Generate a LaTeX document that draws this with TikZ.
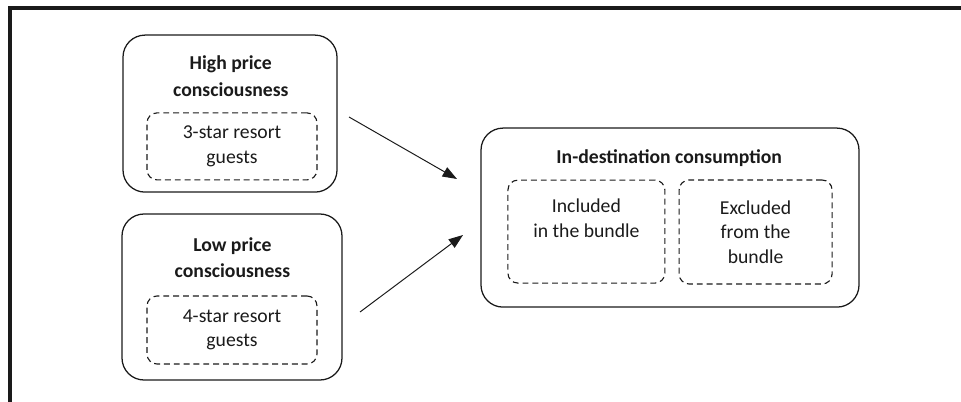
\documentclass[tikz,border=0pt]{standalone}
\usepackage{fontspec}
\setmainfont{Carlito}
\usepackage{tikz}
\usetikzlibrary{arrows.meta,positioning}
\definecolor{inkc}{HTML}{1A1A1A}
\newcommand{\titlefont}{\fontsize{14}{19}\selectfont\bfseries}
\newcommand{\bodyfont}{\fontsize{14}{17.5}\selectfont}

\begin{document}
\begin{tikzpicture}[
		box/.style={draw=inkc,line width=0.9pt,rounded corners=0.55cm,inner sep=0pt},
		dashbox/.style={draw=inkc,line width=0.8pt,dash pattern=on 4.2pt off 2.8pt,rounded corners=0.25cm,align=center,inner sep=0pt,font=\bodyfont,text=inkc},
		title/.style={align=center,inner sep=0pt,font=\titlefont,text=inkc},
		txt/.style={align=center,inner sep=0pt,font=\bodyfont,text=inkc},
		link/.style={draw=inkc,line width=0.7pt,-{Triangle[length=3.6mm,width=2.6mm]}}]
		\useasboundingbox (0,0) rectangle (24.025,-10.05);
		\draw[inkc,line width=2.4pt] (0.25,-10.05) -- (0.25,-0.2) -- (24.025,-0.2);
		\node (hpc) [box,minimum width=5.35cm,minimum height=3.925cm] at (5.75,-2.84) {};
		\node (hpct) [title] at (5.77,-1.9) {High price\\consciousness};
		\node (hpcg) [dashbox,minimum width=4.25cm,minimum height=1.675cm] at (5.8,-3.66) {3-star resort\\guests};
		\node (lpc) [box,minimum width=5.5cm,minimum height=4.15cm] at (5.8,-7.425) {};
		\node (lpct) [title] at (5.81,-6.44) {Low price\\consciousness};
		\node (lpcg) [dashbox,minimum width=4.25cm,minimum height=1.7cm] at (5.8,-8.25) {4-star resort\\guests};
		\node (idc) [box,minimum width=9.45cm,minimum height=4.475cm] at (16.75,-5.44) {};
		\node (idct) [title] at (16.73,-3.95) {In-destination consumption};
		\node (incl) [dashbox,minimum width=3.925cm,minimum height=2.575cm] at (14.66,-5.79) {};
		\node (inclt) [txt] at (14.66,-5.45) {Included\\in the bundle};
		\node (excl) [dashbox,minimum width=3.825cm,minimum height=2.6cm] at (18.89,-5.8) {Excluded\\from the\\bundle};
		\coordinate (hpcout) at (8.725,-2.925);
		\coordinate (hpcin) at (11.425,-4.475);
		\coordinate (lpcout) at (9.0,-7.8);
		\coordinate (lpcin) at (11.575,-5.875);
		\draw[link] (hpcout) -- (hpcin);
		\draw[link] (lpcout) -- (lpcin);
	\end{tikzpicture}
\end{document}
